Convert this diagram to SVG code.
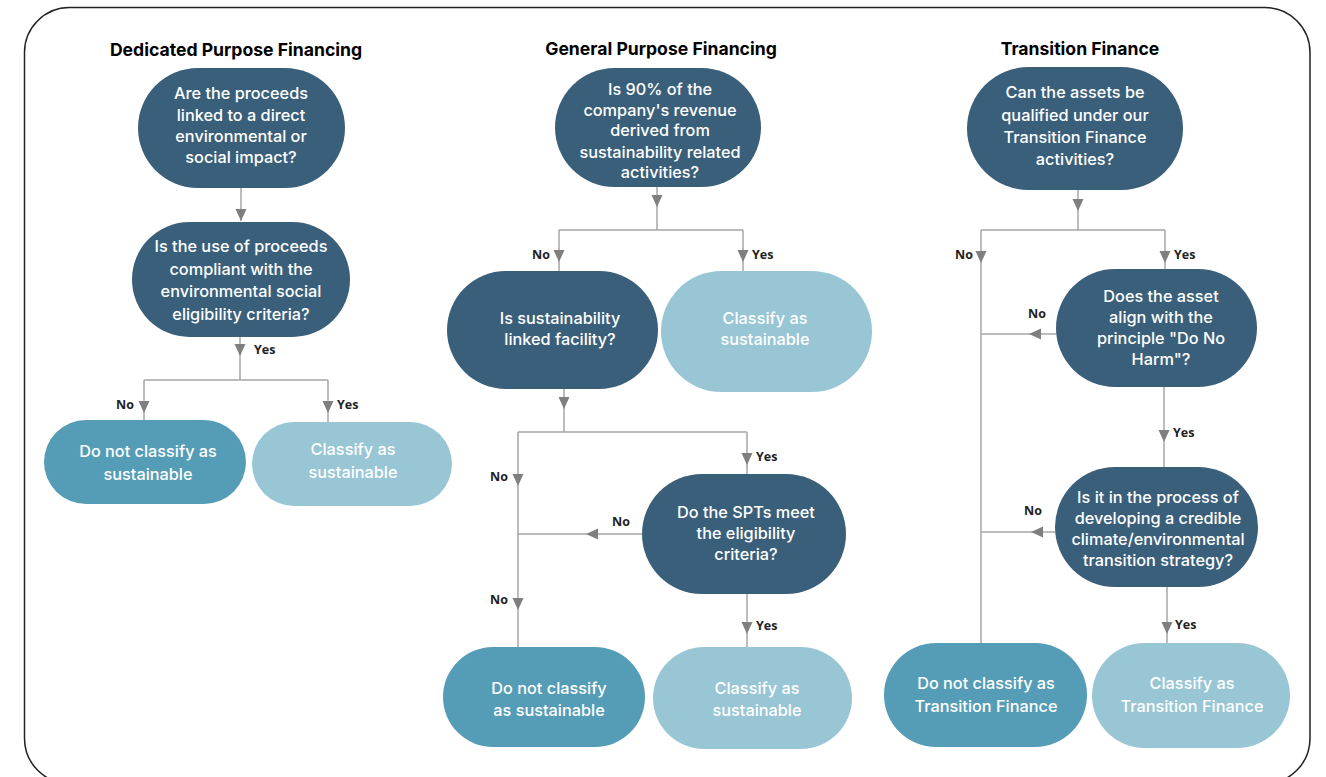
<svg xmlns="http://www.w3.org/2000/svg" xmlns:xlink="http://www.w3.org/1999/xlink" width="1326" height="777" viewBox="0 0 1326 777">
<defs>
<style>
.frame{fill:#fff;stroke:#222;stroke-width:1.5}
.dark{fill:#3A5F7B}
.mid{fill:#559DB6}
.light{fill:#98C6D5}
.nt{font-family:Inter,"Open Sans",sans-serif;font-size:16.3px;font-weight:500;fill:#fff;text-anchor:middle}
.title{font-family:Inter,"Open Sans",sans-serif;font-size:17.6px;font-weight:700;fill:#000;text-anchor:middle}
.lbl{font-family:"Open Sans","Liberation Sans",sans-serif;font-size:12.5px;font-weight:700;fill:#222}
.ln{fill:none;stroke:#A6A6A6;stroke-width:1.5}
.ah{fill:#7F7F80}
</style>
<path id="ad" d="M-5.5,-12 L5.5,-12 L0,0 Z"/>
<path id="al" d="M12,-5.5 L12,5.5 L0,0 Z"/>
</defs>
<rect class="frame" x="24.5" y="7.5" width="1285.5" height="776" rx="45" ry="45"/>

<text class="title" x="236" y="56">Dedicated Purpose Financing</text>
<text class="title" x="661" y="55">General Purpose Financing</text>
<text class="title" x="1080" y="55">Transition Finance</text>

<g id="connectors">
<path class="ln" d="M241,188 V221"/>
<path class="ln" d="M240,337 V380 M144,380 H328 M144,380 V420 M328,380 V422"/>
<path class="ln" d="M657,187 V230 M559,230 H743 M559,230 V271 M743,230 V271"/>
<path class="ln" d="M564,389 V432 M518,432 H747 M747,432 V474 M518,432 V647 M642,534 H518"/>
<path class="ln" d="M747,594 V647"/>
<path class="ln" d="M1078,190 V230 M981,230 H1165 M1165,230 V269 M981,230 V643"/>
<path class="ln" d="M1056,334 H981 M1164,387 V467 M1055,532 H981 M1167,587 V643"/>
<g class="ah">
<use xlink:href="#ad" x="241" y="221"/>
<use xlink:href="#ad" x="240" y="356"/>
<use xlink:href="#ad" x="144" y="413"/>
<use xlink:href="#ad" x="328" y="413"/>
<use xlink:href="#ad" x="657" y="207"/>
<use xlink:href="#ad" x="559" y="262"/>
<use xlink:href="#ad" x="743" y="262"/>
<use xlink:href="#ad" x="564" y="409"/>
<use xlink:href="#ad" x="747" y="465"/>
<use xlink:href="#ad" x="518" y="486"/>
<use xlink:href="#al" x="586" y="534"/>
<use xlink:href="#ad" x="518" y="610"/>
<use xlink:href="#ad" x="747" y="634"/>
<use xlink:href="#ad" x="1078" y="211"/>
<use xlink:href="#ad" x="981" y="263"/>
<use xlink:href="#ad" x="1165" y="263"/>
<use xlink:href="#al" x="1029" y="334"/>
<use xlink:href="#ad" x="1164" y="442"/>
<use xlink:href="#al" x="1031" y="532"/>
<use xlink:href="#ad" x="1167" y="634"/>
</g>
<text class="lbl" x="254" y="354">Yes</text>
<text class="lbl" x="116" y="409">No</text>
<text class="lbl" x="337" y="409">Yes</text>
<text class="lbl" x="532" y="259">No</text>
<text class="lbl" x="752" y="259">Yes</text>
<text class="lbl" x="756" y="461">Yes</text>
<text class="lbl" x="490" y="481">No</text>
<text class="lbl" x="612" y="526">No</text>
<text class="lbl" x="490" y="604">No</text>
<text class="lbl" x="756" y="630">Yes</text>
<text class="lbl" x="955" y="259">No</text>
<text class="lbl" x="1174" y="259">Yes</text>
<text class="lbl" x="1028" y="318">No</text>
<text class="lbl" x="1173" y="437">Yes</text>
<text class="lbl" x="1024" y="515">No</text>
<text class="lbl" x="1175" y="629">Yes</text>
</g>

<g id="dp-q1">
<rect class="dark" x="138" y="68" width="207" height="120" rx="60"/>
<text class="nt"><tspan x="241" y="99">Are the proceeds</tspan><tspan x="241" y="121">linked to a direct</tspan><tspan x="241" y="142">environmental or</tspan><tspan x="241" y="163">social impact?</tspan></text>
</g>
<g id="dp-q2">
<rect class="dark" x="132" y="222" width="218" height="115" rx="57.5"/>
<text class="nt"><tspan x="241" y="252">Is the use of proceeds</tspan><tspan x="241" y="275">compliant with the</tspan><tspan x="241" y="297">environmental social</tspan><tspan x="241" y="320">eligibility criteria?</tspan></text>
</g>
<g id="dp-no">
<rect class="mid" x="44" y="420" width="202" height="84" rx="42"/>
<text class="nt"><tspan x="148" y="457">Do not classify as</tspan><tspan x="148" y="480">sustainable</tspan></text>
</g>
<g id="dp-yes">
<rect class="light" x="252" y="422" width="200" height="84" rx="42"/>
<text class="nt"><tspan x="353" y="455">Classify as</tspan><tspan x="353" y="478">sustainable</tspan></text>
</g>

<g id="gp-q1">
<rect class="dark" x="555" y="68" width="206" height="119" rx="59.5"/>
<text class="nt"><tspan x="660" y="95">Is 90% of the</tspan><tspan x="660" y="116">company's revenue</tspan><tspan x="660" y="136">derived from</tspan><tspan x="660" y="158">sustainability related</tspan><tspan x="660" y="178">activities?</tspan></text>
</g>
<g id="gp-q2">
<rect class="dark" x="447" y="271" width="211" height="118" rx="59"/>
<text class="nt"><tspan x="560" y="324">Is sustainability</tspan><tspan x="560" y="345">linked facility?</tspan></text>
</g>
<g id="gp-yes1">
<rect class="light" x="661" y="271" width="211" height="121" rx="60.5"/>
<text class="nt"><tspan x="765" y="324">Classify as</tspan><tspan x="765" y="345">sustainable</tspan></text>
</g>
<g id="gp-q3">
<rect class="dark" x="642" y="474" width="204" height="120" rx="60"/>
<text class="nt"><tspan x="746" y="518">Do the SPTs meet</tspan><tspan x="746" y="539">the eligibility</tspan><tspan x="746" y="560">criteria?</tspan></text>
</g>
<g id="gp-no">
<rect class="mid" x="443" y="647" width="202" height="100" rx="50"/>
<text class="nt"><tspan x="549" y="694">Do not classify</tspan><tspan x="549" y="716">as sustainable</tspan></text>
</g>
<g id="gp-yes2">
<rect class="light" x="653" y="647" width="199" height="102" rx="51"/>
<text class="nt"><tspan x="757" y="694">Classify as</tspan><tspan x="757" y="716">sustainable</tspan></text>
</g>

<g id="tf-q1">
<rect class="dark" x="967" y="67" width="216" height="123" rx="61.5"/>
<text class="nt"><tspan x="1075" y="98">Can the assets be</tspan><tspan x="1075" y="121">qualified under our</tspan><tspan x="1075" y="143">Transition Finance</tspan><tspan x="1075" y="165">activities?</tspan></text>
</g>
<g id="tf-q2">
<rect class="dark" x="1056" y="269" width="201" height="118" rx="59"/>
<text class="nt"><tspan x="1161" y="302">Does the asset</tspan><tspan x="1161" y="323">align with the</tspan><tspan x="1161" y="344">principle "Do No</tspan><tspan x="1161" y="365">Harm"?</tspan></text>
</g>
<g id="tf-q3">
<rect class="dark" x="1055" y="467" width="203" height="120" rx="60"/>
<text class="nt"><tspan x="1158" y="503">Is it in the process of</tspan><tspan x="1158" y="524">developing a credible</tspan><tspan x="1158" y="545">climate/environmental</tspan><tspan x="1158" y="566">transition strategy?</tspan></text>
</g>
<g id="tf-no">
<rect class="mid" x="884" y="643" width="203" height="104" rx="52"/>
<text class="nt"><tspan x="986" y="689">Do not classify as</tspan><tspan x="986" y="712">Transition Finance</tspan></text>
</g>
<g id="tf-yes">
<rect class="light" x="1092" y="643" width="198" height="105" rx="52.5"/>
<text class="nt"><tspan x="1192" y="689">Classify as</tspan><tspan x="1192" y="712">Transition Finance</tspan></text>
</g>
</svg>
